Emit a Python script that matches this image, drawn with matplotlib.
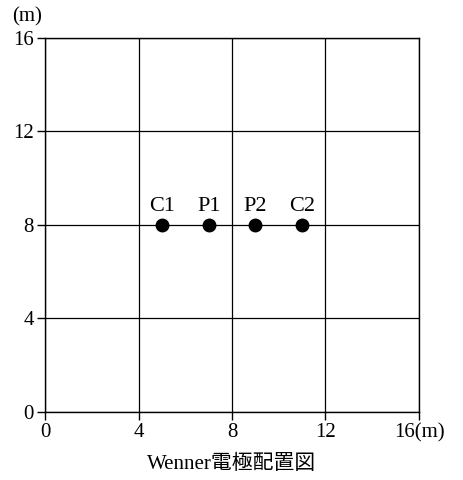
import matplotlib
matplotlib.use('Agg')
import matplotlib.pyplot as plt

plt.rcParams['font.family'] = ['Liberation Serif', 'Noto Sans CJK JP']

# 電極位置 (m)
labels = ['C1', 'P1', 'P2', 'C2']
xs = [5, 7, 9, 11]
ys = [8, 8, 8, 8]
ticks = [0, 4, 8, 12, 16]
xticklabels = ['0', '4', '8', '12', '16(m)']
yticklabels = ['0', '4', '8', '12', '16']

fig = plt.figure(figsize=(4.64, 4.80), dpi=100)
ax = fig.add_axes([0.097, 0.142, 0.806, 0.779])
ax.set_xlim(0, 16); ax.set_ylim(0, 16)
ax.set_xticks(ticks); ax.set_xticklabels(xticklabels, fontsize=15)
ax.set_yticks(ticks); ax.set_yticklabels(yticklabels, fontsize=15)
ax.tick_params(direction='out', length=6, width=1, colors='black', pad=2)
ax.grid(True, color='black', lw=0.9)
for s in ax.spines.values():
    s.set_linewidth(1.0)

ax.plot(xs, ys, 'o', color='black', ms=9, zorder=3)
for x, y, t in zip(xs, ys, labels):
    ax.text(x, y + 0.4, t, ha='center', va='bottom', fontsize=16)

ax.text(-0.75, 16.5, '(m)', ha='center', va='bottom', fontsize=15)
ax.set_xlabel('Wenner電極配置図', fontsize=15, labelpad=9)

plt.savefig('out.png', dpi=100, facecolor='white')
plt.close()
